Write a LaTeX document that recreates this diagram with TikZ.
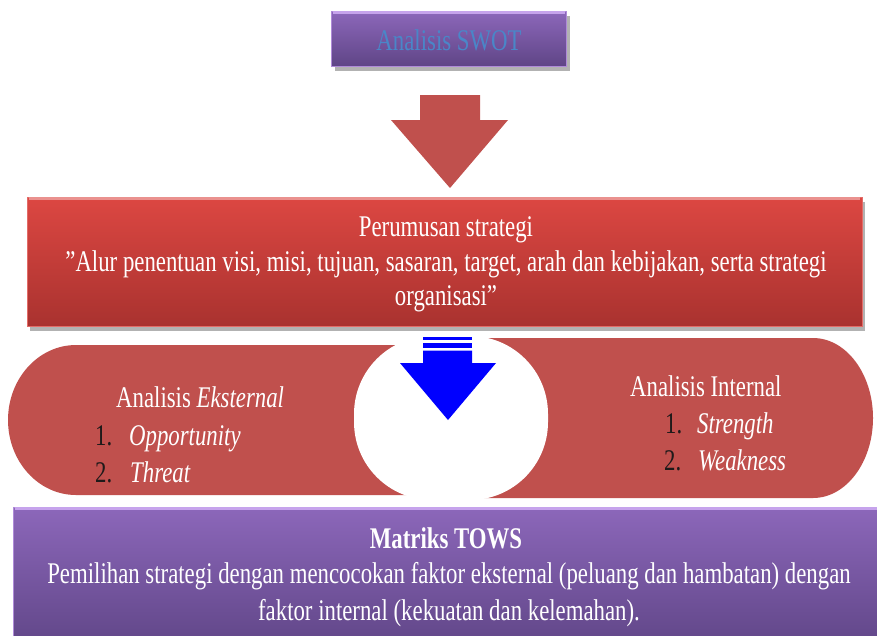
\documentclass[tikz,border=0pt]{standalone}
\usepackage{fontspec}
\setmainfont{Liberation Serif}[FakeStretch=0.76]
\usetikzlibrary{shadows}
\definecolor{pillred}{HTML}{C0504D}
\definecolor{boxredtop}{HTML}{DC4742}
\definecolor{boxredbot}{HTML}{A9322F}
\definecolor{purtop}{HTML}{8C67BA}
\definecolor{purbot}{HTML}{5F4586}
\definecolor{purlight}{HTML}{C6A3EC}
\definecolor{swotblue}{HTML}{4A86C8}
\definecolor{numdark}{HTML}{1E1A1A}
\begin{document}
\begin{tikzpicture}[x=1pt,y=-1pt,
  txt/.style={inner sep=0pt, text=white, font=\fontsize{30}{35}\selectfont},
  numtxt/.style={txt, text=numdark},
  boxshadow/.style={drop shadow={shadow xshift=3pt, shadow yshift=-4pt, fill=black, opacity=0.3}},
  purplebox/.style={rectangle, inner sep=0pt, boxshadow, top color=purtop, bottom color=purbot, draw=purlight!60!purtop, line width=0.8pt},
  redbox/.style={rectangle, inner sep=0pt, boxshadow, top color=boxredtop, bottom color=boxredbot, draw=boxredtop!80!white, line width=0.8pt},
  purhl/.style={draw=purlight, line width=3pt},
  redhl/.style={draw=boxredtop!60!white, line width=3pt},
  redarrow/.style={fill=pillred},
  bluearrow/.style={fill=blue}]
\path[use as bounding box] (0,0) rectangle (877,635);
\begin{scope}
\clip (0,0) rectangle (877,635);

% top box
\node[purplebox, minimum width=235pt, minimum height=55pt] (swotbox) at (449,39.2) {};
\draw[purhl] ([xshift=2pt,yshift=-1.5pt]swotbox.north west) -- ([xshift=-2pt,yshift=-1.5pt]swotbox.north east);
\node[txt, anchor=base, text=swotblue] (swot) at (449,50) {Analisis SWOT};

% red arrow
\fill[redarrow] (420,95) -- (480,95) -- (480,120) -- (508,120) -- (450,188) -- (391,120) -- (420,120) -- cycle;

% left and right rounded shapes
\fill[pillred] (450,345) -- (76,345) .. controls (38.4,345) and (8,378.6) .. (8,420)
  .. controls (8,461.4) and (38.4,495) .. (76,495) -- (450,495) -- cycle;
\fill[pillred] (450,338) -- (813,338) .. controls (846.1,338) and (873,373.8) .. (873,418)
  .. controls (873,462.2) and (846.1,498) .. (813,498) -- (450,498) -- cycle;
\fill[white, rounded corners=78pt] (354,336) rectangle (548,500);

% red box
\node[redbox, minimum width=835pt, minimum height=129pt] (perbox) at (444.5,262) {};
\draw[redhl] ([xshift=2pt,yshift=-1.5pt]perbox.north west) -- ([xshift=-2pt,yshift=-1.5pt]perbox.north east);
\node[txt, anchor=base] (per1) at (446,236.7) {Perumusan strategi};
\node[txt, anchor=base] (per2) at (446,271.5) {”Alur penentuan visi, misi, tujuan, sasaran, target, arah dan kebijakan, serta strategi};
\node[txt, anchor=base] (per3) at (446,305) {organisasi”};

% blue arrow
\fill[bluearrow] (423,337.3) rectangle (472,340.3);
\fill[bluearrow] (423,342.7) rectangle (472,347.7);
\fill[bluearrow] (423,350.7) -- (472,350.7) -- (472,363) -- (496,363) -- (448,420) -- (400,363) -- (423,363) -- cycle;

% left texts
\node[txt, anchor=base west] (ekst) at (116,407) {Analisis \textit{Eksternal}};
\node[numtxt, anchor=base west] (n1) at (95,445) {1.};
\node[txt, anchor=base west] (opp) at (129,445) {\textit{Opportunity}};
\node[numtxt, anchor=base west] (n2) at (95,482) {2.};
\node[txt, anchor=base west] (thr) at (130,482) {\textit{Threat}};

% right texts
\node[txt, anchor=base west] (intr) at (630,396.7) {Analisis Internal};
\node[numtxt, anchor=base west] (n3) at (665,433) {1.};
\node[txt, anchor=base west] (str) at (697,433) {\textit{Strength}};
\node[numtxt, anchor=base west] (n4) at (664,470) {2.};
\node[txt, anchor=base west] (weak) at (698,470) {\textit{Weakness}};

% bottom box
\node[purplebox, minimum width=880pt, minimum height=145pt] (towsbox) at (453,579.5) {};
\draw[purhl] ([xshift=2pt,yshift=-1.5pt]towsbox.north west) -- ([xshift=-2pt,yshift=-1.5pt]towsbox.north east);
\node[txt, anchor=base] (tows1) at (446,548) {\textbf{Matriks TOWS}};
\node[txt, anchor=base] (tows2) at (449,583) {Pemilihan strategi dengan mencocokan faktor eksternal (peluang dan hambatan) dengan};
\node[txt, anchor=base] (tows3) at (449,620) {faktor internal (kekuatan dan kelemahan).};
\end{scope}
\end{tikzpicture}
\end{document}
